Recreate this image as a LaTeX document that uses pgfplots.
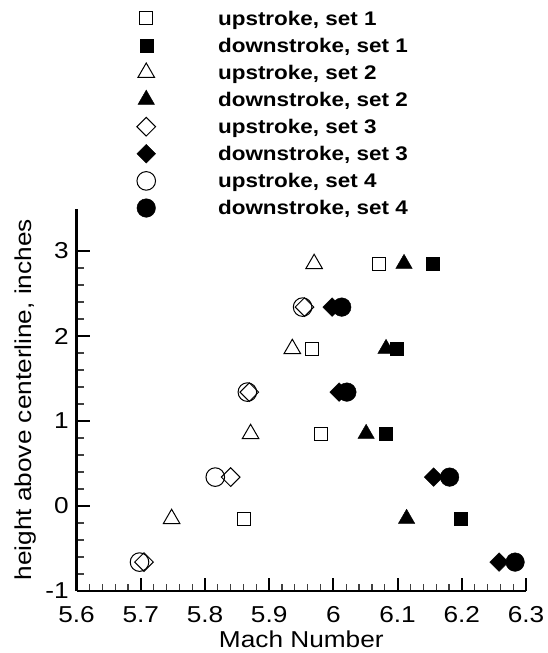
\documentclass[border=0pt]{standalone}
\usepackage{pgfplots}
\pgfplotsset{compat=1.18}
\usepackage{fontspec}
\setmainfont{Liberation Sans}[FakeStretch=1.14]
\begin{document}
\begin{tikzpicture}
\begin{axis}[
  name=ax,
  scale only axis,
  width=449.4pt, height=382.5pt,
  xmin=5.6, xmax=6.3, ymin=-1, ymax=3.5,
  axis lines=left,
  axis line style={-, line width=2.8pt},
  xtick={5.6,5.7,5.8,5.9,6.0,6.1,6.2,6.3},
  ytick={-1,0,1,2,3},
  minor x tick num=4, minor y tick num=4,
  tick align=inside,
  major tick length=13pt, minor tick length=7.5pt,
  major tick style={line width=2pt, black},
  minor tick style={line width=1.2pt, black!75},
  /pgf/number format/assume math mode=true,
  tick label style={font=\fontsize{23}{23}\selectfont, inner sep=0pt},
  xticklabel style={yshift=-15pt},
  yticklabel style={xshift=-7.7pt},
  xlabel={Mach Number},
  ylabel={height above centerline, inches},
  xlabel style={at={(axis description cs:0.5,-0.1472)}, anchor=base, inner sep=0pt, font=\fontsize{23}{23}\selectfont},
  ylabel style={at={(axis description cs:-0.1371,0.5)}, anchor=north, inner sep=0pt, font=\fontsize{23}{23}\selectfont},
  only marks,
  legend image code/.code={\draw[#1] plot coordinates {(0pt,0pt)};},
  legend cell align=left,
  legend style={draw=none, fill=none, inner sep=0pt, outer sep=0pt,
    at={(axis description cs:0.1342,1.526)}, anchor=north west,
    font=\bfseries\fontsize{19.7}{19.7}\selectfont,
    nodes={inner sep=0pt, text height=17.7pt, text depth=4.3pt},
    row sep=5.1pt, column sep=62.5pt},
  clip=false,
]
\addplot[mark=square, mark size=6.5pt, mark options={black, line width=1pt}] coordinates {
  (6.071,2.85) (5.967,1.85) (5.980,0.85) (5.860,-0.15)};
\addlegendentry{upstroke, set 1}
\addplot[mark=square*, mark size=6.5pt, mark options={black, fill=black}] coordinates {
  (6.154,2.85) (6.099,1.85) (6.081,0.85) (6.198,-0.15)};
\addlegendentry{downstroke, set 1}
\addplot[mark=triangle, mark size=9.5pt, mark options={black, line width=1pt}] coordinates {
  (5.970,2.85) (5.936,1.85) (5.871,0.85) (5.748,-0.15)};
\addlegendentry{upstroke, set 2}
\addplot[mark=triangle*, mark size=9.5pt, mark options={black, fill=black}] coordinates {
  (6.110,2.85) (6.082,1.85) (6.051,0.85) (6.114,-0.15)};
\addlegendentry{downstroke, set 2}
\addplot[mark=square, mark size=6.6pt, mark options={black, line width=1pt, rotate=45}] coordinates {
  (5.955,2.34) (5.869,1.34) (5.840,0.34) (5.705,-0.66)};
\addlegendentry{upstroke, set 3}
\addplot[mark=square*, mark size=6.6pt, mark options={black, fill=black, rotate=45}] coordinates {
  (5.998,2.34) (6.009,1.34) (6.156,0.34) (6.258,-0.66)};
\addlegendentry{downstroke, set 3}
\addplot[mark=o, mark size=9.3pt, mark options={black, line width=1pt}] coordinates {
  (5.952,2.34) (5.866,1.34) (5.816,0.34) (5.698,-0.66)};
\addlegendentry{upstroke, set 4}
\addplot[mark=*, mark size=9.3pt, mark options={black, fill=black}] coordinates {
  (6.013,2.34) (6.021,1.34) (6.181,0.34) (6.283,-0.66)};
\addlegendentry{downstroke, set 4}
\end{axis}
\pgfresetboundingbox
\path[use as bounding box] ([xshift=-76.6pt,yshift=-62pt]ax.south west) rectangle ([xshift=471.4pt,yshift=591pt]ax.south west);
\end{tikzpicture}
\end{document}
